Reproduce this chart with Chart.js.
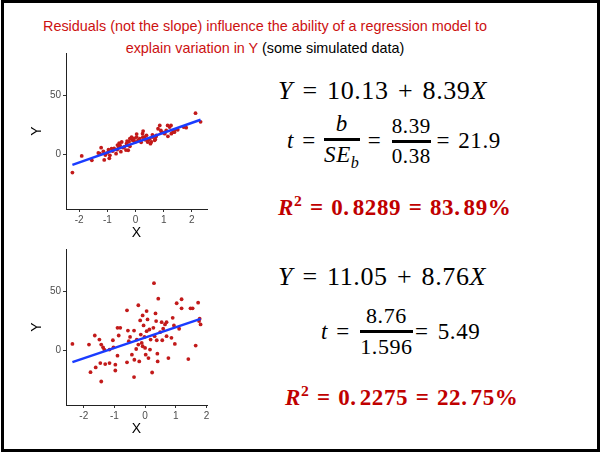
<!DOCTYPE html>
<html>
<head>
<meta charset="utf-8">
<script src="https://cdn.jsdelivr.net/npm/chart.js@4.4.1/dist/chart.umd.min.js"></script>
<style>
  html, body { margin: 0; padding: 0; background: #fff; }
  body { width: 601px; height: 452px; position: relative; overflow: hidden; }
  #frame { position: absolute; left: 1px; top: 0; width: 599px; height: 452px; box-sizing: border-box; border: 3px solid #000; }
  #title { position: absolute; left: 15px; top: 15px; width: 500px; text-align: center;
           font-family: "Liberation Sans", Arial, sans-serif; font-size: 14.4px; line-height: 22px; color: #cc1111; }
  #title .blk { color: #000; }
  .plot { position: absolute; left: 20px; width: 195px; height: 200px; }
  .eq { position: absolute; font-family: "Liberation Serif", "DejaVu Serif", serif; color: #000;
        display: flex; align-items: center; white-space: nowrap; letter-spacing: 0.6px; }
  .op { margin: 0 0.36em; }
  .frac { display: inline-flex; flex-direction: column; align-items: center; }
  .frac .bar { height: 3px; background: #000; align-self: stretch; margin: 1px 0; }
  .r2 { color: #c00000; font-weight: bold; letter-spacing: 0.6px; }
  .r2 .op { margin: 0 0.33em; }
  .r2 sup { font-size: 0.68em; vertical-align: 0.55em; line-height: 0; }
  .gap { margin-left: 3px; }
</style>
</head>
<body>
<div id="frame"></div>
<div id="title">Residuals (not the slope) influence the ability of a regression model to<br>explain variation in Y <span class="blk">(some simulated data)</span></div>

<div class="plot" style="top:45px;"><canvas id="chart1"></canvas></div>
<div class="plot" style="top:241px;"><canvas id="chart2"></canvas></div>

<!-- model 1 -->
<div class="eq" style="left:278px; top:76px; font-size:26px;">
  <i>Y</i><span class="op">=</span>10.13<span class="op">+</span>8.39<i>X</i>
</div>
<div class="eq" style="left:287px; top:111px; font-size:23px;">
  <i>t</i><span class="op">=</span>
  <span class="frac"><i>b</i><span class="bar"></span><span><i>SE<sub style="font-size:0.7em">b</sub></i></span></span>
  <span class="op" style="margin-right:0.45em">=</span>
  <span class="frac" style="font-size:21px;"><span>8.39</span><span class="bar"></span><span>0.38</span></span>
  <span class="op" style="margin-left:0.25em; margin-right:0.35em">=</span>21.9
</div>
<div class="eq r2" style="left:278px; top:195px; font-size:23px;">
  <span><i>R</i><sup>2</sup></span><span class="op">=</span>0.<span class="gap">8289</span><span class="op">=</span>83.<span class="gap">89%</span>
</div>

<!-- model 2 -->
<div class="eq" style="left:278px; top:262px; font-size:26px;">
  <i>Y</i><span class="op">=</span>11.05<span class="op">+</span>8.76<i>X</i>
</div>
<div class="eq" style="left:321px; top:303px; font-size:23px;">
  <i>t</i><span class="op" style="margin-right:0.45em">=</span>
  <span class="frac" style="font-size:22px;"><span>8.76</span><span class="bar"></span><span>1.596</span></span>
  <span class="op" style="margin-left:0.1em; margin-right:0.4em">=</span>5.49
</div>
<div class="eq r2" style="left:285px; top:385px; font-size:23px;">
  <span><i>R</i><sup>2</sup></span><span class="op">=</span>0.<span class="gap">2275</span><span class="op">=</span>22.<span class="gap">75%</span>
</div>

<script>
// simulated data
const x1 = [-2.24, -1.91, -1.55, -1.32, -1.26, -1.22, -1.14, -1.11, -1.07, -1.0, -0.96, -0.93, -0.91, -0.85,
  -0.81, -0.76, -0.69, -0.65, -0.64, -0.6, -0.58, -0.55, -0.52, -0.49, -0.44, -0.40, -0.34, -0.32, -0.3,
  -0.28, -0.26, -0.23, -0.20, -0.20, -0.14, -0.11, -0.08, -0.05, -0.02, 0.04, 0.04, 0.09, 0.15, 0.2,
  0.25, 0.26, 0.27, 0.33, 0.35, 0.39, 0.43, 0.45, 0.51, 0.53, 0.56, 0.6, 0.62, 0.68, 0.7, 0.73, 0.74,
  0.80, 0.86, 0.90, 0.92, 1.0, 1.04, 1.09, 1.14, 1.15, 1.21, 1.26, 1.27, 1.33, 1.38, 1.39, 1.5, 1.71,
  1.80, 2.13, 2.31];
const y1 = [-15.2, -1.1, -4.8, 1.4, 0.8, 5.9, 2.8, -4.5, -0.3, 1.5, 4.2, -3.1, -0.6, 5.1,
  3.0, 5.3, 0.8, 4.2, 8.1, 6.0, 9.8, 7.9, 2.5, 10.7, 5.9, 6.5, 3.9, 9.3, 11.5,
  8.1, 3.7, 11.0, 13.5, 7.0, 14.9, 12.3, 12.1, 13.7, 10.7, 14.9, 17.4, 12.1, 13.5, 10.5,
  17.7, 14.8, 19.9, 14.9, 12.5, 16.3, 10.6, 12.1, 13.5, 9.3, 10.7, 16.8, 14.9, 12.1, 13.0, 15.4, 16.3,
  21.9, 24.7, 20.5, 19.1, 18.5, 17.7, 20.5, 24.7, 15.5, 23.3, 24.7, 17.7, 19.1, 19.0, 20.5, 21.0, 23.3,
  22.8, 35.1, 27.8];

const x2 = [-2.37, -1.83, -1.78, -1.64, -1.61, -1.49, -1.46, -1.43, -1.43, -1.37, -1.33, -1.30, -1.16, -1.16,
  -1.05, -1.03, -0.97, -0.97, -0.90, -0.86, -0.81, -0.90, -0.59, -0.59, -0.56, -0.53, -0.49, -0.43, -0.36,
  -0.35, -0.36, -0.29, -0.27, -0.22, -0.22, -0.19, -0.16, -0.14, -0.11, -0.08, -0.08, -0.05, -0.02, 0.0,
  0.02, 0.05, 0.05, 0.08, 0.11, 0.14, 0.16, 0.18, 0.23, 0.27, 0.29, 0.31, 0.34, 0.36, 0.38, 0.40, 0.41,
  0.43, 0.49, 0.54, 0.56, 0.59, 0.65, 0.70, 0.70, 0.76, 0.86, 0.90, 0.94, 0.97, 1.03, 1.11, 1.19, 1.19,
  1.41, 1.48, 1.55, 1.65, 1.73, 1.76, 1.78, 1.81];
const y2 = [5.7, 5.1, -18.2, 12.8, -14.2, 9.4, -10.5, -26.1, 5.1, 2.8, 0.9, -11.4, 0.9, -10.5,
  8.8, 2.8, -11.9, -16.8, 19.3, 12.8, 19.3, -4.3, 34.1, -9.9, 17.0, 8.0, 11.6, -3.4, 17.0,
  -7.7, -22.4, 1.4, 9.4, 38.4, 5.1, -9.1, 25.6, 13.6, 6.5, 29.8, 3.7, 21.3, 11.6, 2.3,
  -3.4, 33.5, 16.5, 26.4, -6.3, 17.9, 0.9, 9.4, -18.5, 19.3, 57.1, 12.2, 31.5, 25.0, 8.8, -2.6, -9.1,
  44.0, 15.6, 24.1, 8.8, 18.5, 22.2, 24.1, 12.2, -6.3, 10.8, 27.8, 21.3, 5.7, 40.1, 18.5, 43.5, 35.8,
  -7.1, 35.8, 35.8, 4.3, 40.6, 25.0, 27.0, 22.2];

const intercepts = [10.13, 11.05];
const slopes = [8.39, 8.76];
const xTicks = [-2, -1, 0, 1, 2];
const yTicks = [0, 50];
const yLimits = [-40, 80];

function expand(lo, hi) {
  const d = (hi - lo) * 0.05;
  return [lo - d, hi + d];
}

function makeChart(id, xs, ys, a, b) {
  const pts = xs.map((v, i) => ({ x: v, y: ys[i] }));
  const lo = Math.min(...xs), hi = Math.max(...xs);
  const [xmin, xmax] = expand(lo, hi);
  const [ymin, ymax] = expand(yLimits[0], yLimits[1]);
  const fit = [{ x: lo, y: a + b * lo }, { x: hi, y: a + b * hi }];

  new Chart(document.getElementById(id), {
    type: 'scatter',
    data: {
      datasets: [
        { type: 'line', data: fit, borderColor: '#1a3cff', borderWidth: 2.5, pointRadius: 0, fill: false },
        { data: pts, backgroundColor: '#c21a1a', borderWidth: 0, pointRadius: 1.9 }
      ]
    },
    options: {
      responsive: true,
      maintainAspectRatio: false,
      animation: false,
      layout: { padding: { top: 8, right: 8, left: 0, bottom: 0 } },
      plugins: { legend: { display: false }, tooltip: { enabled: false } },
      scales: {
        x: {
          type: 'linear', min: xmin, max: xmax,
          afterBuildTicks: s => { s.ticks = xTicks.map(v => ({ value: v })); },
          afterFit: s => { s.height = 36; },
          grid: { drawOnChartArea: false, tickLength: 3, color: '#333' },
          border: { color: '#222', width: 1 },
          ticks: { color: '#4d4d4d', padding: 2, font: { family: 'Liberation Sans', size: 10 } },
          title: { display: true, text: 'X', color: '#000', padding: { top: 0, bottom: 3 },
                   font: { family: 'Liberation Sans', size: 14 } }
        },
        y: {
          type: 'linear', min: ymin, max: ymax,
          afterBuildTicks: s => { s.ticks = yTicks.map(v => ({ value: v })); },
          afterFit: s => { s.width = 46; },
          grid: { drawOnChartArea: false, tickLength: 3, color: '#333' },
          border: { color: '#222', width: 1 },
          ticks: { color: '#4d4d4d', padding: 2, font: { family: 'Liberation Sans', size: 10 } },
          title: { display: true, text: 'Y', color: '#000', padding: { top: 9, bottom: 0 },
                   font: { family: 'Liberation Sans', size: 14 } }
        }
      }
    }
  });
}

makeChart('chart1', x1, y1, intercepts[0], slopes[0]);
makeChart('chart2', x2, y2, intercepts[1], slopes[1]);
</script>
</body>
</html>
